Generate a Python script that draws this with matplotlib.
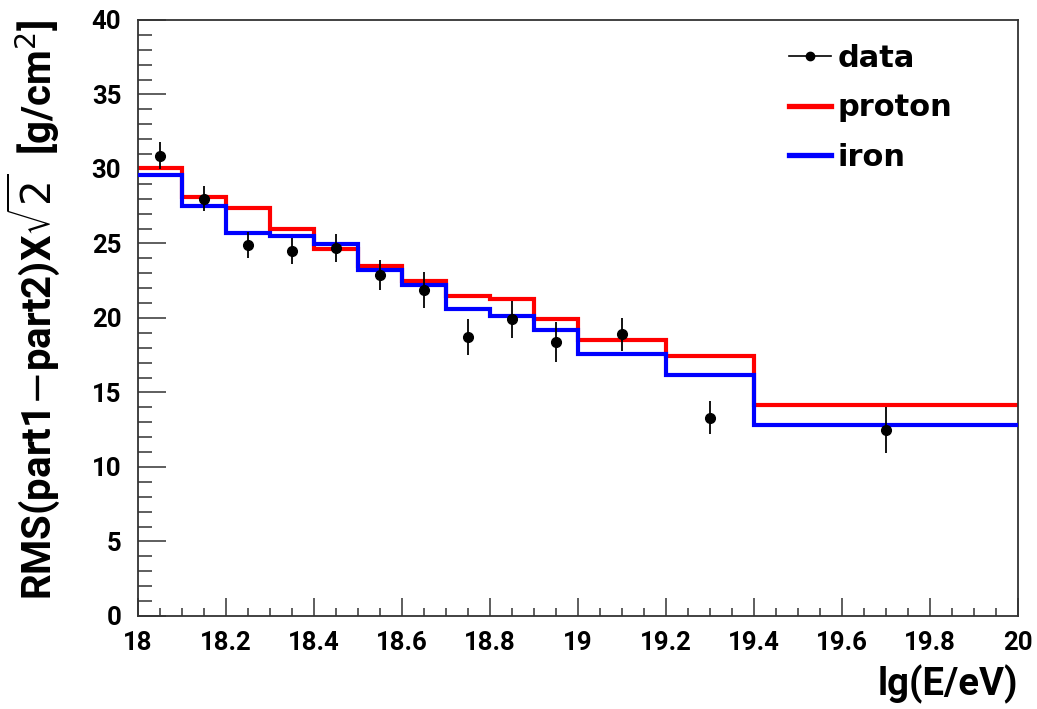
import numpy as np
import matplotlib.pyplot as plt
from matplotlib.lines import Line2D

# bins in lg(E/eV)
bordes = [18.0, 18.1, 18.2, 18.3, 18.4, 18.5, 18.6, 18.7, 18.8, 18.9, 19.0, 19.2, 19.4, 20.0]

# simulated RMS per bin
proton = [30.05, 28.1, 27.4, 26.0, 24.65, 23.5, 22.5, 21.5, 21.25, 19.95, 18.55, 17.45, 14.15]
iron = [29.6, 27.5, 25.7, 25.5, 24.95, 23.2, 22.2, 20.6, 20.1, 19.2, 17.6, 16.2, 12.85]

# measured points
x_data = [18.05, 18.15, 18.25, 18.35, 18.45, 18.55, 18.65, 18.75, 18.85, 18.95, 19.1, 19.3, 19.7]
y_data = [30.9, 28.0, 24.9, 24.5, 24.7, 22.9, 21.9, 18.7, 19.9, 18.4, 18.9, 13.3, 12.5]
err_data = [0.9, 0.85, 0.85, 0.9, 0.95, 1.0, 1.2, 1.2, 1.25, 1.35, 1.1, 1.1, 1.55]

plt.rcParams['font.family'] = ['Roboto', 'DejaVu Sans']
plt.rcParams['mathtext.fontset'] = 'dejavusans'

fig = plt.figure(figsize=(10.37, 7.09), dpi=100)
ax = fig.add_axes([0.1331, 0.1312, 0.8489, 0.8406])

ax.stairs(proton, bordes, color="#ff0000", lw=3.0, baseline=None, zorder=2)
ax.stairs(iron, bordes, color="#0000ff", lw=3.0, baseline=None, zorder=3)
ax.errorbar(x_data, y_data, yerr=err_data, fmt="o", color="black", ms=7,
            elinewidth=1.3, capsize=0, zorder=4)

ax.set_xlim(18, 20)
ax.set_ylim(0, 40)
ax.set_xticks(np.arange(18, 20.01, 0.2))
ax.set_xticklabels(["18", "18.2", "18.4", "18.6", "18.8", "19", "19.2", "19.4", "19.6", "19.8", "20"])
ax.set_xticks(np.arange(18, 20.01, 0.05), minor=True)
ax.set_yticks(np.arange(0, 41, 5))
ax.set_yticks(np.arange(0, 41, 1), minor=True)

ax.tick_params(axis="both", which="both", direction="in", top=False, right=False,
               width=1.1, color="#333333")
ax.tick_params(axis="x", which="major", length=13, pad=11, labelsize=18.5)
ax.tick_params(axis="x", which="minor", length=6)
ax.tick_params(axis="y", which="major", length=20, pad=12, labelsize=18.5)
ax.tick_params(axis="y", which="minor", length=10)
for lab in ax.get_xticklabels() + ax.get_yticklabels():
    lab.set_fontweight("bold")
for sp in ax.spines.values():
    sp.set_linewidth(1.3)
    sp.set_color("#333333")

ax.set_xlabel("lg(E/eV)", loc="right", fontsize=27.5, fontweight="bold")
ax.xaxis.set_label_coords(1.0, -0.082)
ax.set_ylabel(r"RMS(part1$-$part2)X$\sqrt{2}$  [g/cm$^2$]", loc="top",
              fontsize=29, fontweight="bold")
ax.yaxis.set_label_coords(-0.086, 1.0)

handles = [
    Line2D([], [], color="black", marker="o", ms=6, lw=1.2),
    Line2D([], [], color="#ff0000", lw=3.8),
    Line2D([], [], color="#0000ff", lw=3.8),
]
ax.legend(handles, ["data", "proton", "iron"], loc="upper left",
          bbox_to_anchor=(0.739, 0.96), frameon=False, borderpad=0,
          borderaxespad=0, handlelength=1.4, handletextpad=0.2,
          labelspacing=0.67, prop={"family": "DejaVu Sans", "weight": "bold", "size": 22})

fig.savefig("out.png", dpi=100)
